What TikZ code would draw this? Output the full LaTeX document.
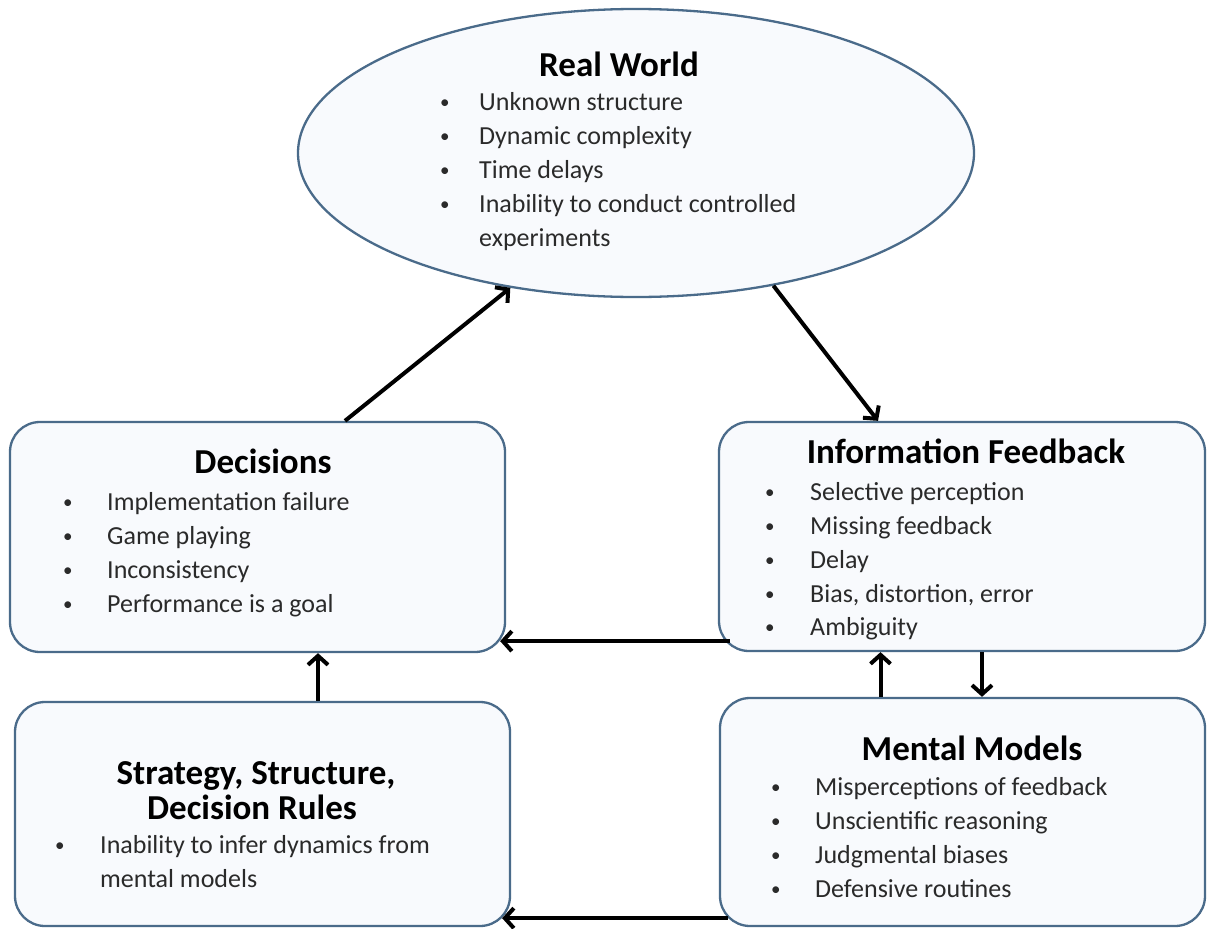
\documentclass[tikz,border=0pt]{standalone}
\usepackage{fontspec}
\setmainfont{Carlito}
\usetikzlibrary{shapes.geometric,arrows.meta}
\definecolor{edge}{HTML}{4A6B8A}
\definecolor{boxfill}{HTML}{F8FAFD}
\definecolor{body}{HTML}{2A2A2A}
\tikzset{
  panelbase/.style={draw=edge, line width=2.3pt, fill=boxfill, inner sep=0pt},
  panel/.style={panelbase, rounded corners=30pt},
  arr/.style={line width=4pt, -{Straight Barb[length=9pt,width=20pt]}},
  title/.style={anchor=base, font=\fontsize{35}{35}\selectfont\bfseries, inner sep=0pt},
  item/.style={anchor=base west, font=\fontsize{26}{34}\selectfont, text=body, inner sep=0pt},
}
% bullet mark followed by the item text
\newcommand\bul[2]{\makebox[#1pt][l]{\raisebox{1.5pt}{\fontsize{19}{19}\selectfont •}}#2}
\begin{document}
\begin{tikzpicture}[x=1pt,y=-1pt]
  \fill[white] (0,0) rectangle (1208,929);
  \useasboundingbox (0,0) rectangle (1208,929);

  % panels
  \node[panelbase, ellipse, minimum width=676pt, minimum height=288pt] (rw) at (636,153) {};
  \node[panel, minimum width=495pt, minimum height=230pt] (dec) at (257.5,537) {};
  \node[panel, minimum width=486pt, minimum height=229pt] (info) at (962,536.5) {};
  \node[panel, minimum width=495pt, minimum height=224pt] (strat) at (262.5,814) {};
  \node[panel, minimum width=485pt, minimum height=228pt] (ment) at (962.5,812) {};

  % Real World
  \node[title] (rwt) at (619,76) {Real World};
  \node[item] (rw1) at (440,110) {\bul{39}{Unknown structure}};
  \node[item] (rw2) at (440,144) {\bul{39}{Dynamic complexity}};
  \node[item] (rw3) at (440,178) {\bul{39}{Time delays}};
  \node[item] (rw4) at (440,212) {\bul{39}{Inability to conduct controlled}};
  \node[item] (rw5) at (479,246) {experiments};

  % Decisions
  \node[title] (dect) at (263,473) {Decisions};
  \node[item] (dec1) at (63,510) {\bul{44}{Implementation failure}};
  \node[item] (dec2) at (63,544) {\bul{44}{Game playing}};
  \node[item] (dec3) at (63,578) {\bul{44}{Inconsistency}};
  \node[item] (dec4) at (63,612) {\bul{44}{Performance is a goal}};

  % Information Feedback
  \node[title] (infot) at (966,463) {Information Feedback};
  \node[item] (inf1) at (765,500) {\bul{45}{Selective perception}};
  \node[item] (inf2) at (765,534) {\bul{45}{Missing feedback}};
  \node[item] (inf3) at (765,568) {\bul{45}{Delay}};
  \node[item] (inf4) at (765,602) {\bul{45}{Bias, distortion, error}};
  \node[item] (inf5) at (765,635) {\bul{45}{Ambiguity}};

  % Strategy, Structure, Decision Rules
  \node[title] (strt1) at (256,784) {Strategy, Structure,};
  \node[title] (strt2) at (252,819) {Decision Rules};
  \node[item] (str1) at (55,853) {\bul{45}{Inability to infer dynamics from}};
  \node[item] (str2) at (100,887) {mental models};

  % Mental Models
  \node[title] (mentt) at (972,760) {Mental Models};
  \node[item] (men1) at (771,795) {\bul{44}{Misperceptions of feedback}};
  \node[item] (men2) at (771,829) {\bul{44}{Unscientific reasoning}};
  \node[item] (men3) at (771,863) {\bul{44}{Judgmental biases}};
  \node[item] (men4) at (771,897) {\bul{44}{Defensive routines}};

  % connectors
  \draw[arr] ([xshift=87.5pt]dec.north) -- (rw.227);
  \draw[arr] (rw.-44) -- ([xshift=-84pt]info.north);
  \draw[arr] ([shift={(12,-11)}]info.south west) -- ([shift={(-6,-12)}]dec.south east);
  \coordinate (s1) at ([xshift=55.5pt]strat.north);
  \draw[arr] (s1) -- (s1 |- dec.south);
  \coordinate (m1) at ([xshift=-82pt]ment.north);
  \draw[arr] (m1) -- (m1 |- info.south);
  \coordinate (i1) at ([xshift=20pt]info.south);
  \draw[arr] (i1) -- (i1 |- ment.north);
  \draw[arr] ([shift={(9,-9)}]ment.south west) -- ([shift={(-9,-9)}]strat.south east);
\end{tikzpicture}
\end{document}
